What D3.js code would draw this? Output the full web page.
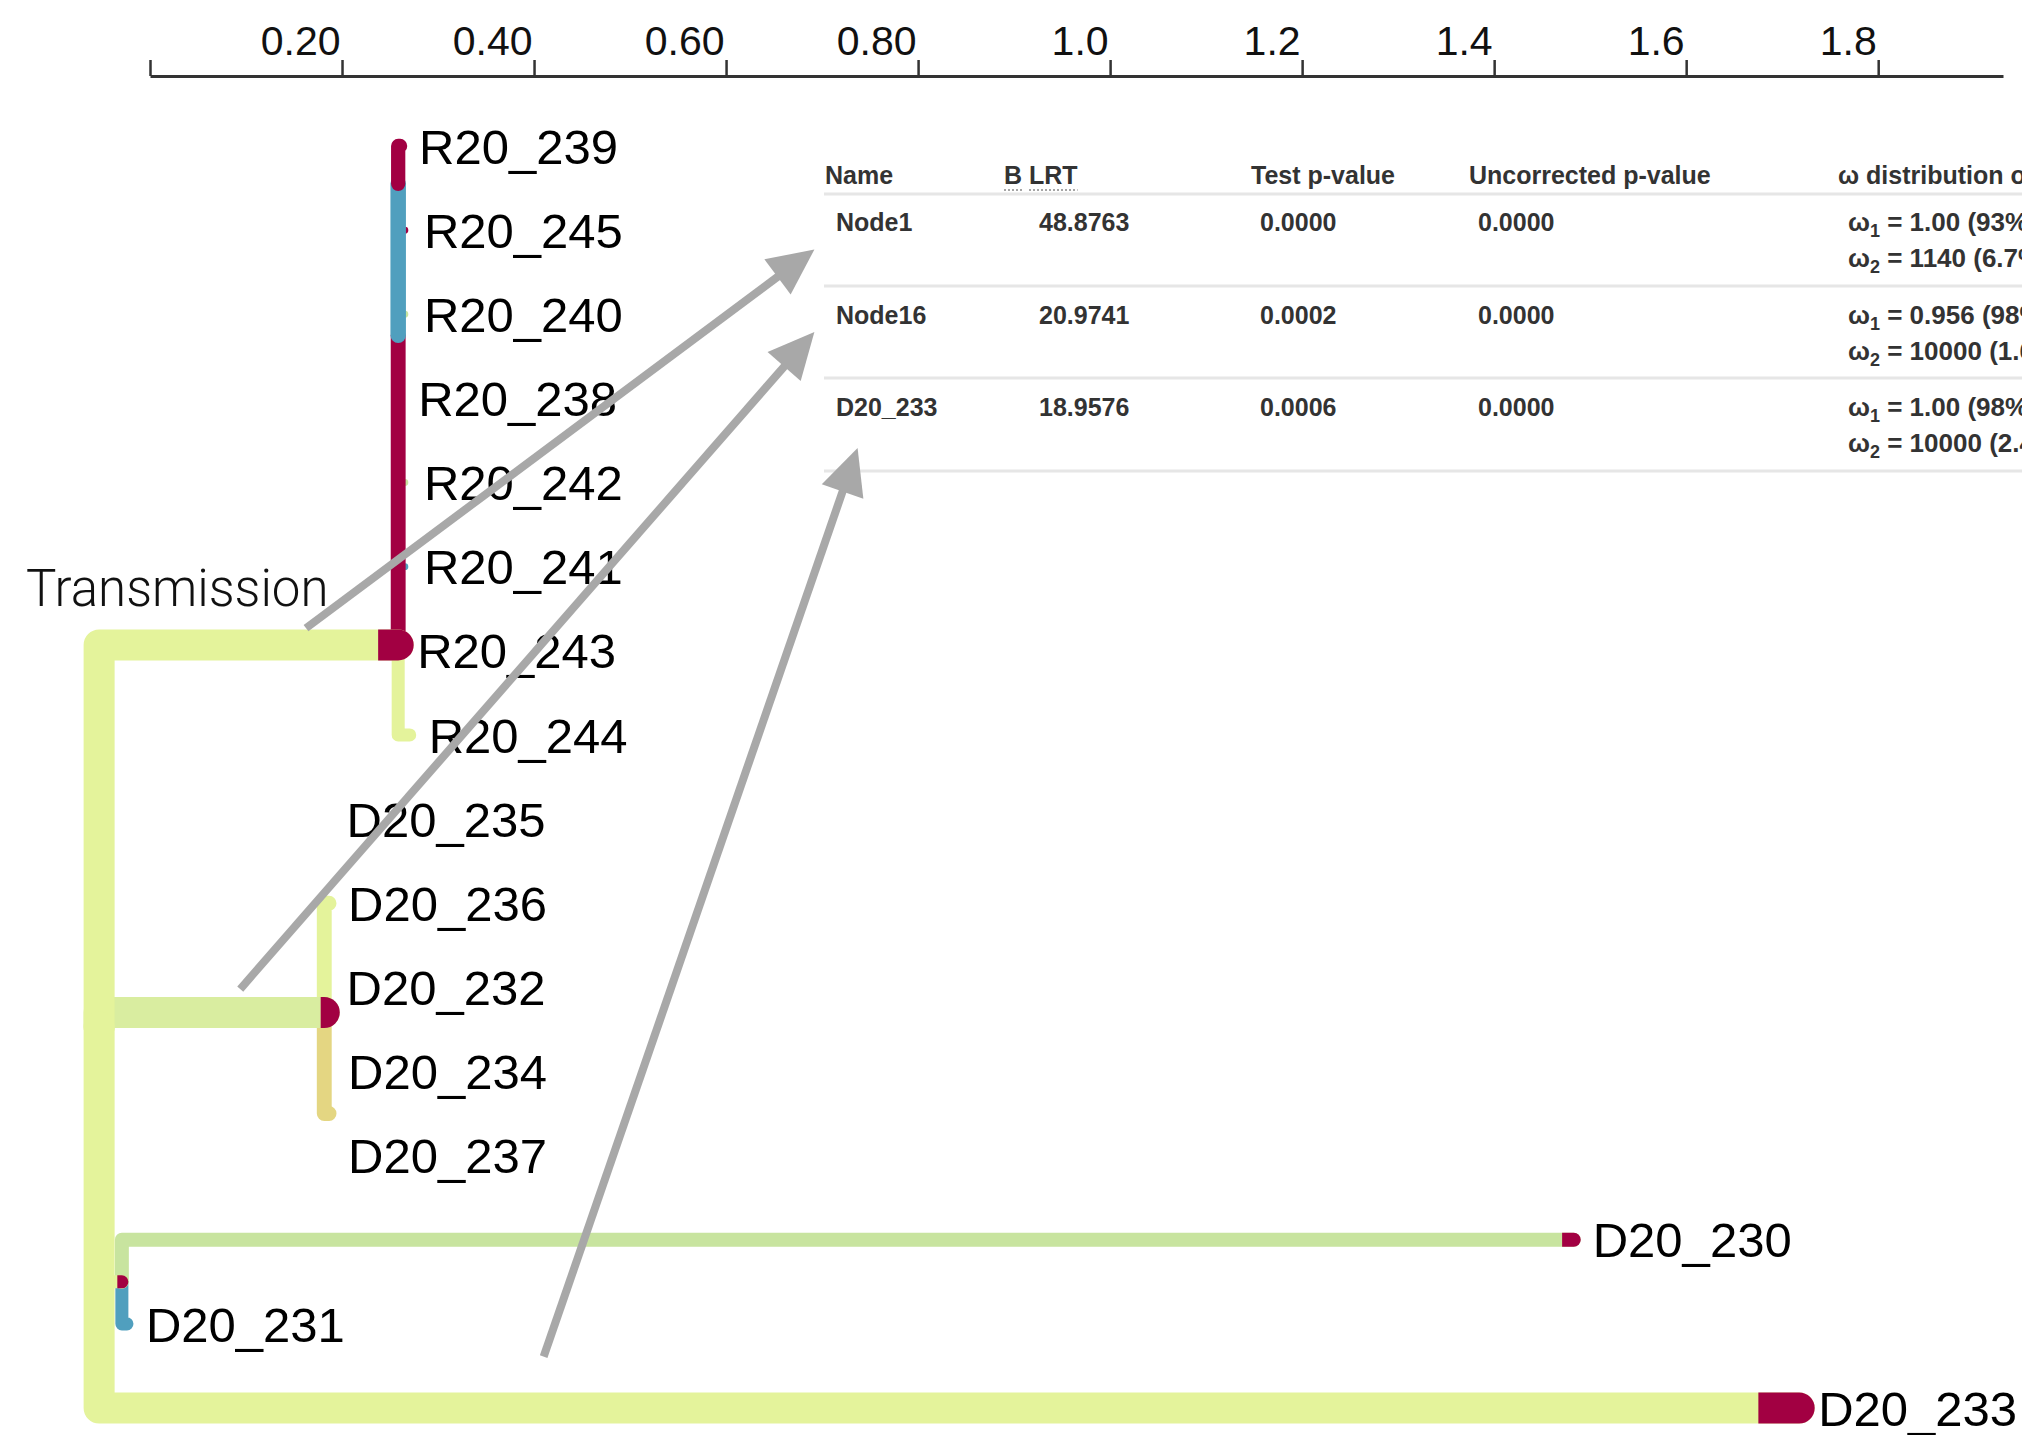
<!DOCTYPE html>
<html><head><meta charset="utf-8">
<script src="https://cdn.jsdelivr.net/npm/d3@7"></script>
<style>
html,body{margin:0;padding:0;background:#fff;overflow:hidden}
svg{display:block}
</style></head><body>
<svg id="chart" width="2022" height="1435"></svg>
<script>
// ---------------- data ----------------
const tickValues = [0, 0.2, 0.4, 0.6, 0.8, 1.0, 1.2, 1.4, 1.6, 1.8];
const tickLabels = ["", "0.20", "0.40", "0.60", "0.80", "1.0", "1.2", "1.4", "1.6", "1.8"];

const tipNames = ["R20_239","R20_245","R20_240","R20_238","R20_242","R20_241","R20_243","R20_244",
                  "D20_235","D20_236","D20_232","D20_234","D20_237","D20_230","D20_231","D20_233"];

// tree nodes (listed in drawing order)
const nodeNames  = ["root","D20_231","D20_230","N20","D20_235","D20_232","D20_234","D20_237","D20_236","N17","Node16",
                    "R20_245","R20_240","R20_242","R20_241","R20_243","R20_238","NA","NB","R20_239","R20_244","Node1","D20_233"];
const nodeParent = [null,"N20","N20","root","Node16","Node16","N17","N17","Node16","Node16","root",
                    "NB","NA","Node1","Node1","Node1","Node1","Node1","NA","NB","Node1","root","root"];
// cumulative branch length from the axis origin
const nodeDepth  = [-0.053,-0.024,1.4829,-0.0293,0.185,0.185,0.1865,0.1865,0.1865,0.1865,0.1815,
                    0.2655,0.2655,0.2655,0.2655,0.2585,0.2595,0.2585,0.2585,0.2605,0.2705,0.2585,1.7177];
// vertical position in tip rows
const nodeRow    = [10.47,14,13,13.5,8,10,11,12,9,11.5,10.3,
                    1,2,4,5,6,3,2.25,0.45,0,7,5.93,15];
// relative branch weight (thickness)
const branchWeight = [0,0.42,0.45,0.42,0,0,0,0,0.48,0.48,1.0,
                      0.22,0.22,0.22,0.22,0,0.16,0.48,0.5,0.46,0.42,1.0,1.0];
// omega rate classes along each branch and their shares
const branchClasses = [[],["pur"],["mild","sel"],["neu","sel"],["neu"],["neu"],["mod"],["mod"],["neu"],["mod"],["neuG","sel"],
                       ["sel"],["mild"],["mild"],["pur"],["neu"],["sel"],["sel"],["pur"],["sel"],["neu"],["neu","sel"],["neu","sel"]];
const branchShares  = [[],[1],[0.992,0.008],[0.8,0.2],[1],[1],[1],[1],[1],[1],[0.984,0.016],
                       [1],[1],[1],[1],[1],[1],[1],[1],[1],[1],[0.933,0.067],[0.976,0.024]];

// table
const tableHeaders = ["Name", "B LRT", "Test p-value", "Uncorrected p-value", "ω distribution over sites"];
const rowNames     = ["Node1", "Node16", "D20_233"];
const bLRT         = ["48.8763", "20.9741", "18.9576"];
const testP        = ["0.0000", "0.0002", "0.0006"];
const uncorrectedP = ["0.0000", "0.0000", "0.0000"];
const omega1       = ["1.00", "0.956", "1.00"];
const omega1Prop   = ["93%", "98%", "98%"];
const omega2       = ["1140", "10000", "10000"];
const omega2Prop   = ["6.7%", "1.6%", "2.4%"];

// annotation arrows (tree units: [depth, row])
const arrowFrom = [[0.1625, 5.73], [0.094, 10.02], [0.41, 14.39]];
const arrowTo   = [[0.692, 1.23], [0.692, 2.21], [0.737, 3.59]];
const annotationText = "Transmission";

// ---------------- drawing ----------------
const svg = d3.select("#chart");
const x = d3.scaleLinear().domain([0, 1.93]).range([150, 2003]);
const y = d3.scaleLinear().domain([0, 15]).range([146, 1408]);
const wScale = d3.scaleLinear().domain([0, 1]).range([0, 31]);
const classColor = d3.scaleOrdinal()
  .domain(["neu","neuG","mild","mod","pur","sel"])
  .range(["#e4f39b","#d9eda0","#c8e49f","#e4d682","#509fbe","#a20042"]);

// axis
const axis = d3.axisTop(x).tickValues(tickValues).tickFormat((d,i)=>tickLabels[i])
  .tickSize(16).tickSizeOuter(0);
const gAxis = svg.append("g").attr("transform","translate(0,76)").call(axis);
gAxis.select(".domain").attr("stroke","#333").attr("stroke-width",3);
gAxis.selectAll(".tick line").attr("stroke","#333").attr("stroke-width",2.5);
gAxis.selectAll(".tick text")
  .attr("text-anchor","end").attr("x",-2).attr("y",-21).attr("dy",0)
  .attr("fill","#111")
  .style("font-family","'Liberation Sans', Arial, sans-serif").style("font-size","41px");

// tree
const idx = new Map(nodeNames.map((n,i)=>[n,i]));
const gTree = svg.append("g");
nodeNames.forEach((name,i)=>{
  const p = nodeParent[i];
  if (p === null || !branchWeight[i]) return;
  const pi = idx.get(p);
  const x0 = x(nodeDepth[pi]), y0 = y(nodeRow[pi]);
  const x1 = x(nodeDepth[i]),  y1 = y(nodeRow[i]);
  const sw = wScale(branchWeight[i]);
  const cls = branchClasses[i], sh = branchShares[i];
  gTree.append("path")
    .attr("d", `M${x0},${y0}V${y1}H${x1}`)
    .attr("fill","none").attr("stroke", classColor(cls[0]))
    .attr("stroke-width", sw).attr("stroke-linecap","round").attr("stroke-linejoin","round");
  let acc = sh[0];
  for (let k = 1; k < cls.length; k++) {
    const xa = x0 + (x1 - x0) * acc;
    acc += sh[k];
    const xb = x0 + (x1 - x0) * acc;
    const col = classColor(cls[k]);
    const r = sw / 2;
    if (k === cls.length - 1) {
      // final segment with a rounded tip
      gTree.append("path")
        .attr("d", `M${xa},${y1 - r}H${xb}A${r},${r} 0 0 1 ${xb},${y1 + r}H${xa}Z`)
        .attr("fill", col);
    } else {
      gTree.append("rect").attr("x",xa).attr("y",y1 - r).attr("width",xb - xa).attr("height",sw)
        .attr("fill", col);
    }
  }
});

// tip labels
const gLab = svg.append("g")
  .style("font-family","'Liberation Sans', Arial, sans-serif").style("font-size","49px");
tipNames.forEach(t=>{
  const i = idx.get(t);
  gLab.append("text").attr("x", x(nodeDepth[i]) + 19).attr("y", y(nodeRow[i]))
    .attr("dy","0.36em").attr("fill","#000").text(t);
});

// table
const colX = [825, 1004, 1251, 1469, 1838];
const cellX = [836, 1039, 1260, 1478, 1848];
const gTab = svg.append("g")
  .style("font-family","'Liberation Sans', Arial, sans-serif").style("font-size","25px")
  .style("font-weight","bold").attr("fill","#333");
const headY = 184;
tableHeaders.forEach((h,i)=>{
  if (i === 1) {
    const t = gTab.append("text").attr("x",colX[i]).attr("y",headY);
    t.append("tspan").text("B");
    t.append("tspan").text(" LRT");
    const node = t.node();
    const wB = node.getSubStringLength(0,1);
    const wSp = node.getSubStringLength(1,1);
    const wAll = node.getComputedTextLength();
    gTab.append("line").attr("x1",colX[i]).attr("x2",colX[i]+wB).attr("y1",headY+6).attr("y2",headY+6)
      .attr("stroke","#888").attr("stroke-width",1.5).attr("stroke-dasharray","2,2");
    gTab.append("line").attr("x1",colX[i]+wB+wSp).attr("x2",colX[i]+wAll).attr("y1",headY+6).attr("y2",headY+6)
      .attr("stroke","#888").attr("stroke-width",1.5).attr("stroke-dasharray","2,2");
  } else {
    gTab.append("text").attr("x",colX[i]).attr("y",headY).text(h);
  }
});
const lineYs = [194, 286, 378, 471];
lineYs.forEach(ly=>{
  gTab.append("line").attr("x1",824).attr("x2",2022).attr("y1",ly).attr("y2",ly)
    .attr("stroke","#e6e6e6").attr("stroke-width",3);
});
function omegaText(g, xx, yy, sub, val, prop){
  const t = g.append("text").attr("x",xx).attr("y",yy).style("font-size","26px");
  t.append("tspan").text("ω");
  t.append("tspan").attr("dy",6).style("font-size","18px").text(sub);
  t.append("tspan").attr("dy",-6).text(` = ${val} (${prop})`);
}
rowNames.forEach((r,i)=>{
  const by = 231 + i*92.5;
  gTab.append("text").attr("x",cellX[0]).attr("y",by).text(r);
  gTab.append("text").attr("x",cellX[1]).attr("y",by).text(bLRT[i]);
  gTab.append("text").attr("x",cellX[2]).attr("y",by).text(testP[i]);
  gTab.append("text").attr("x",cellX[3]).attr("y",by).text(uncorrectedP[i]);
  omegaText(gTab, cellX[4], by, "1", omega1[i], omega1Prop[i]);
  omegaText(gTab, cellX[4], by + 36, "2", omega2[i], omega2Prop[i]);
});

// arrows
const gArr = svg.append("g");
arrowFrom.forEach((f,i)=>{
  const sx = x(f[0]), sy = y(f[1]);
  const ex = x(arrowTo[i][0]), ey = y(arrowTo[i][1]);
  const dx = ex - sx, dy = ey - sy, L = Math.hypot(dx,dy);
  const ux = dx/L, uy = dy/L, headL = 46, headW = 22;
  const bx = ex - ux*headL, by = ey - uy*headL;
  gArr.append("line").attr("x1",sx).attr("y1",sy).attr("x2",bx+ux*4).attr("y2",by+uy*4)
    .attr("stroke","#a8a8a8").attr("stroke-width",8);
  gArr.append("polygon")
    .attr("points",[[ex,ey],[bx - uy*headW, by + ux*headW],[bx + uy*headW, by - ux*headW]].map(p=>p.join(",")).join(" "))
    .attr("fill","#a8a8a8");
});

// annotation text
svg.append("text").attr("x",26).attr("y",606)
  .style("font-family","Roboto, 'Liberation Sans', sans-serif").style("font-weight","300")
  .style("font-size","51px").attr("fill","#111").text(annotationText);
</script>
</body></html>
